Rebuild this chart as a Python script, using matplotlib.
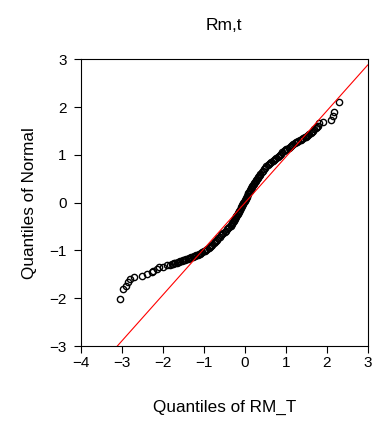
import matplotlib
matplotlib.use("Agg")
import matplotlib.pyplot as plt

plt.rcParams["font.family"] = ["Liberation Sans", "DejaVu Sans"]

# sample quantiles of RM_T (x) against theoretical normal quantiles (y)
# lower tail
tail_low_x = [-3.03, -2.98, -2.90, -2.85, -2.81, -2.69, -2.51, -2.38, -2.27,
              -2.23, -2.13, -2.08, -1.99, -1.90, -1.82]
tail_low_y = [-2.01, -1.81, -1.74, -1.66, -1.60, -1.56, -1.53, -1.49, -1.46,
              -1.43, -1.39, -1.35, -1.34, -1.31, -1.30]

# body of the distribution
body_x = [
    -1.78, -1.75, -1.72, -1.69, -1.66, -1.63, -1.60, -1.57, -1.54, -1.51,
    -1.48, -1.45, -1.42, -1.39, -1.36, -1.33, -1.30, -1.27, -1.24, -1.21,
    -1.18, -1.15, -1.12, -1.09, -1.06, -1.03, -1.00, -0.97, -0.94, -0.91,
    -0.88, -0.85, -0.82, -0.79, -0.76, -0.73, -0.70, -0.67, -0.64, -0.61,
    -0.58, -0.55, -0.52, -0.49, -0.46, -0.43, -0.40, -0.38,
    -0.346, -0.331, -0.317, -0.302, -0.288, -0.273, -0.259, -0.244, -0.230,
    -0.215, -0.201, -0.186, -0.172, -0.157, -0.143, -0.128, -0.114, -0.099,
    -0.085, -0.070,
    -0.057, -0.043, -0.030, -0.017, -0.003, 0.010, 0.023, 0.037, 0.050,
    0.063, 0.077, 0.090, 0.103, 0.117, 0.130, 0.143, 0.157, 0.170,
    0.186, 0.202, 0.218, 0.235, 0.251, 0.267, 0.283, 0.299, 0.316, 0.332,
    0.348, 0.364, 0.380,
    0.41, 0.44, 0.47, 0.50, 0.53, 0.56, 0.59, 0.62, 0.65, 0.68,
    0.71, 0.74, 0.77, 0.80, 0.83, 0.86, 0.89, 0.92, 0.95, 0.98,
    1.01, 1.04, 1.07, 1.10, 1.13, 1.16, 1.19, 1.22, 1.25, 1.28,
    1.31, 1.34, 1.37, 1.40, 1.43, 1.46, 1.49, 1.52, 1.55, 1.58,
    1.61, 1.64, 1.67, 1.70, 1.73, 1.76, 1.78,
]
body_y = [
    -1.290, -1.281, -1.272, -1.263, -1.254, -1.245, -1.236, -1.227, -1.218,
    -1.209, -1.200, -1.191, -1.182, -1.173, -1.164, -1.155, -1.145, -1.136,
    -1.126, -1.115, -1.105, -1.094, -1.082, -1.066, -1.050, -1.034, -1.018,
    -1.002, -0.986, -0.965, -0.944, -0.922, -0.900, -0.877, -0.852, -0.826,
    -0.800, -0.772, -0.744, -0.714, -0.684, -0.660, -0.636, -0.612, -0.585,
    -0.560, -0.535, -0.515,
    -0.479, -0.458, -0.437, -0.416, -0.395, -0.374, -0.353, -0.332, -0.311,
    -0.290, -0.269, -0.248, -0.227, -0.206, -0.185, -0.164, -0.143, -0.122,
    -0.101, -0.080,
    -0.057, -0.034, -0.012, 0.011, 0.034, 0.057, 0.079, 0.102, 0.125,
    0.148, 0.171, 0.193, 0.216, 0.239, 0.262, 0.284, 0.307, 0.330,
    0.352, 0.373, 0.395, 0.416, 0.438, 0.459, 0.481, 0.502, 0.524, 0.545,
    0.567, 0.588, 0.610,
    0.640, 0.670, 0.700, 0.730, 0.760, 0.785, 0.808, 0.830, 0.853, 0.875,
    0.898, 0.920, 0.942, 0.963, 0.985, 1.007, 1.029, 1.050, 1.072, 1.092,
    1.113, 1.133, 1.154, 1.174, 1.194, 1.215, 1.235, 1.249, 1.262, 1.276,
    1.289, 1.303, 1.316, 1.331, 1.349, 1.367, 1.384, 1.402, 1.420, 1.443,
    1.465, 1.488, 1.510, 1.533, 1.560, 1.590, 1.610,
]

# upper tail
tail_high_x = [1.81, 1.91, 2.11, 2.15, 2.18, 2.29]
tail_high_y = [1.66, 1.69, 1.74, 1.81, 1.90, 2.10]

# reference line
line_slope = 0.963
line_intercept = -0.008

x_ticks = [-4, -3, -2, -1, 0, 1, 2, 3]
y_ticks = [-3, -2, -1, 0, 1, 2, 3]

rm_t_quantiles = tail_low_x + body_x + tail_high_x
normal_quantiles = tail_low_y + body_y + tail_high_y

fig = plt.figure(figsize=(3.73, 4.21), dpi=100)
ax = fig.add_axes([0.2164, 0.1781, 0.7694, 0.6810])

ax.plot(rm_t_quantiles, normal_quantiles, linestyle="none", marker="o",
        markersize=4.5, markerfacecolor="none", markeredgecolor="black",
        markeredgewidth=1.0)
ax.axline((0, line_intercept), slope=line_slope, color="red", linewidth=0.8)

ax.set_xlim(-4, 3)
ax.set_ylim(-3, 3)
ax.set_xticks(x_ticks)
ax.set_yticks(y_ticks)
ax.tick_params(direction="out", length=5, width=0.8, labelsize=11,
               top=False, right=False)
ax.tick_params(axis="y", pad=5)
ax.tick_params(axis="x", pad=2)
for side in ax.spines.values():
    side.set_linewidth(0.8)

ax.set_xlabel("Quantiles of RM_T", fontsize=12.3, labelpad=22)
ax.set_ylabel("Quantiles of Normal", fontsize=12.3, labelpad=9)
ax.set_title("Rm,t", fontsize=12.5, pad=21)

fig.savefig("out.png", dpi=100)
